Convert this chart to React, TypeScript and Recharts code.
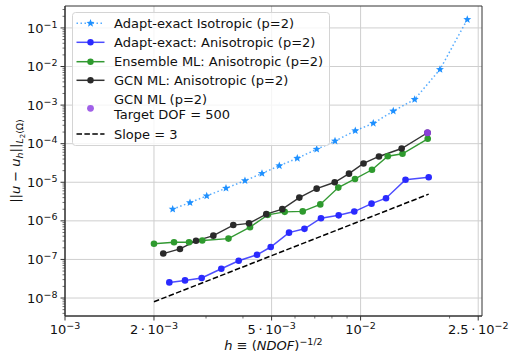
import { LineChart, Line, XAxis, YAxis, CartesianGrid, Legend, ReferenceArea, Label } from "recharts";

// h = NDOF^-1/2 and L2 error values
const isoH = [2.314e-3, 2.648e-3, 3.016e-3, 3.505e-3, 4.063e-3, 4.639e-3, 5.309e-3, 6.108e-3, 7.104e-3, 8.194e-3, 9.596e-3, 1.104e-2, 1.29e-2, 1.524e-2, 1.856e-2, 2.296e-2];
const isoErr = [2.01e-6, 2.97e-6, 4.43e-6, 7.01e-6, 1.1e-5, 1.69e-5, 2.68e-5, 4.19e-5, 7.2e-5, 1.17e-4, 2.17e-4, 3.37e-4, 7.0e-4, 1.41e-3, 8.39e-3, 0.165];

const anisoH = [2.254e-3, 2.547e-3, 2.9e-3, 3.379e-3, 3.869e-3, 4.463e-3, 4.965e-3, 5.726e-3, 6.459e-3, 7.345e-3, 8.432e-3, 9.521e-3, 1.089e-2, 1.219e-2, 1.419e-2, 1.7e-2];
const anisoErr = [2.54e-8, 2.86e-8, 3.3e-8, 5.73e-8, 9.23e-8, 1.32e-7, 2.1e-7, 4.95e-7, 6.21e-7, 1.17e-6, 1.39e-6, 1.74e-6, 2.79e-6, 3.86e-6, 1.16e-5, 1.35e-5];

const ensH = [2.0e-3, 2.338e-3, 2.628e-3, 2.913e-3, 3.573e-3, 4.226e-3, 4.854e-3, 5.537e-3, 6.371e-3, 7.306e-3, 8.406e-3, 9.574e-3, 1.093e-2, 1.236e-2, 1.386e-2, 1.687e-2];
const ensErr = [2.54e-7, 2.78e-7, 2.78e-7, 3.09e-7, 3.47e-7, 6.87e-7, 1.43e-6, 1.71e-6, 1.76e-6, 2.67e-6, 7.27e-6, 1.22e-5, 2.11e-5, 4.74e-5, 5.47e-5, 1.34e-4];

const gcnH = [2.15e-3, 2.449e-3, 2.775e-3, 3.176e-3, 3.709e-3, 4.193e-3, 4.797e-3, 5.434e-3, 6.205e-3, 7.104e-3, 8.175e-3, 9.137e-3, 1.023e-2, 1.154e-2, 1.377e-2, 1.684e-2];
const gcnErr = [1.42e-7, 1.87e-7, 3.04e-7, 4.14e-7, 7.78e-7, 8.61e-7, 1.49e-6, 2.01e-6, 4.01e-6, 6.84e-6, 1.0e-5, 1.67e-5, 3.07e-5, 4.66e-5, 7.5e-5, 1.92e-4];

const targetH = [1.684e-2];
const targetErr = [1.92e-4];

const slopeH = [2.0e-3, 1.7e-2];
const slopeErr = [8.0e-9, 4.913e-6];

const xDomain = [1e-3, 2.575e-2];
const yDomain = [3.42e-9, 0.37];

const xMajorTicks = [0.001, 0.002, 0.005, 0.01, 0.025];
const xTickPrefix = ["", "2\u2009·\u2009", "5\u2009·\u2009", "", "2.5\u2009·\u2009"];
const xTickExp = ["−3", "−3", "−3", "−2", "−2"];
const xMinorTicks = [0.003, 0.004, 0.006, 0.007, 0.008, 0.009, 0.02];

const yMajorTicks = [1e-8, 1e-7, 1e-6, 1e-5, 1e-4, 1e-3, 1e-2, 1e-1];
const yTickExp = ["−8", "−7", "−6", "−5", "−4", "−3", "−2", "−1"];
const minorSubs = [2, 3, 4, 5, 6, 7, 8, 9];
const yMinorTicks = [1e-9, ...yMajorTicks].flatMap((d) => minorSubs.map((s) => s * d)).filter((v) => v > yDomain[0] && v < yDomain[1]);

const FONT = "DejaVu Sans";
const SPINE = "#333";

const pts = (h: number[], e: number[]) => h.map((x, i) => ({ x, y: e[i] }));

function starPoints(cx: number, cy: number, ro: number, ri: number) {
  const p: string[] = [];
  for (let k = 0; k < 10; k++) {
    const r = k % 2 === 0 ? ro : ri;
    const a = -Math.PI / 2 + (k * Math.PI) / 5;
    p.push(`${cx + r * Math.cos(a)},${cy + r * Math.sin(a)}`);
  }
  return p.join(" ");
}

const circleDot = (fill: string, r: number) => (p: any) => (
  <circle key={`c${p.index}`} cx={p.cx} cy={p.cy} r={r} fill={fill} />
);
const starDot = (p: any) => (
  <polygon key={`s${p.index}`} points={starPoints(p.cx, p.cy, 4.2, 1.8)} fill="#1E90FF" />
);

function XTick(props: any) {
  const { x, y, payload } = props;
  const i = xMajorTicks.indexOf(payload.value);
  const major = i >= 0;
  return (
    <g>
      <line x1={x} x2={x} y1={y} y2={y + (major ? 4.5 : 2.5)} stroke={SPINE} strokeWidth={major ? 1 : 0.7} />
      {major && (
        <text x={x} y={y + 17.7} textAnchor="middle" fontSize={13} fontFamily={FONT} fill="#111">
          {xTickPrefix[i]}10
          <tspan dy={-4.7} fontSize={9.5}>{xTickExp[i]}</tspan>
        </text>
      )}
    </g>
  );
}

function YTick(props: any) {
  const { x, y, payload } = props;
  const i = yMajorTicks.indexOf(payload.value);
  const major = i >= 0;
  return (
    <g>
      <line x1={x - (major ? 4.5 : 2.5)} x2={x} y1={y} y2={y} stroke={SPINE} strokeWidth={major ? 1 : 0.7} />
      {major && (
        <text x={x - 7.5} y={y + 4.6} textAnchor="end" fontSize={13} fontFamily={FONT} fill="#111">
          10
          <tspan dy={-5} fontSize={9.5}>{yTickExp[i]}</tspan>
        </text>
      )}
    </g>
  );
}

function XLabel(props: any) {
  const vb = props.viewBox;
  return (
    <text x={vb.x + vb.width / 2} y={vb.y + 34} textAnchor="middle" fontSize={13} fontFamily={FONT} fill="#111">
      <tspan fontStyle="italic">h</tspan> ≡ (<tspan fontStyle="italic">NDOF</tspan>)
      <tspan dy={-5} fontSize={9.5}>−1/2</tspan>
    </text>
  );
}

function YLabel(props: any) {
  const vb = props.viewBox;
  const cx = 20;
  const cy = vb.y + vb.height / 2;
  return (
    <text x={cx} y={cy} transform={`rotate(-90, ${cx}, ${cy})`} textAnchor="middle" fontSize={13} fontFamily={FONT} fill="#111">
      ||<tspan fontStyle="italic">u</tspan> − <tspan fontStyle="italic">u</tspan>
      <tspan dy={2.5} fontSize={9.5} fontStyle="italic">h</tspan>
      <tspan dy={-2.5}>||</tspan>
      <tspan dy={3} fontSize={9.5} fontStyle="italic">L</tspan>
      <tspan dy={1.5} fontSize={7}>2</tspan>
      <tspan dy={-1.5} fontSize={9.5}>(Ω)</tspan>
    </text>
  );
}

function LegendBox() {
  const tx = 42;
  const hx1 = 4.5;
  const hx2 = 32.5;
  const mx = 18.5;
  const txt = (y: number, s: string) => (
    <text x={tx} y={y + 4.6} fontSize={13} fontFamily={FONT} fill="#111">{s}</text>
  );
  return (
    <svg width={258} height={134} style={{ display: "block" }}>
      <rect x={0.5} y={0.5} width={257} height={133} rx={3} fill="#fff" fillOpacity={0.8} stroke="#d4d4d4" />
      <line x1={hx1} x2={hx2} y1={11.3} y2={11.3} stroke="#1E90FF" strokeOpacity={0.75} strokeWidth={1.5} strokeDasharray="1.5 2.5" />
      <polygon points={starPoints(mx, 11.3, 4.2, 1.8)} fill="#1E90FF" />
      {txt(11.3, "Adapt-exact Isotropic (p=2)")}
      <line x1={hx1} x2={hx2} y1={30.3} y2={30.3} stroke="#0000ff" strokeOpacity={0.7} strokeWidth={1.5} />
      <circle cx={mx} cy={30.3} r={3.2} fill="#2a2aff" />
      {txt(30.3, "Adapt-exact: Anisotropic (p=2)")}
      <line x1={hx1} x2={hx2} y1={49.7} y2={49.7} stroke="#339933" strokeWidth={1.5} />
      <circle cx={mx} cy={49.7} r={3.2} fill="#2e9a2e" />
      {txt(49.7, "Ensemble ML: Anisotropic (p=2)")}
      <line x1={hx1} x2={hx2} y1={68.3} y2={68.3} stroke="#333" strokeWidth={1.5} />
      <circle cx={mx} cy={68.3} r={3.2} fill="#2a2a2a" />
      {txt(68.3, "GCN ML: Anisotropic (p=2)")}
      <circle cx={mx} cy={96.3} r={3.4} fill="#a060e8" />
      {txt(87.3, "GCN ML (p=2)")}
      {txt(102.3, "Target DOF = 500")}
      <line x1={hx1} x2={hx2} y1={122} y2={122} stroke="#000" strokeWidth={1.5} strokeDasharray="5.5 2.4" />
      {txt(122, "Slope = 3")}
    </svg>
  );
}

export default function App() {
  return (
    <div style={{ position: "absolute", left: 0, top: 0, width: 509, height: 355, background: "#fff" }}>
      <LineChart width={509} height={355} margin={{ top: 6, right: 27, bottom: 0, left: 0 }}>
        <CartesianGrid stroke="#cfcfcf" strokeWidth={1} verticalValues={xMajorTicks} horizontalValues={yMajorTicks} />
        <XAxis
          dataKey="x"
          type="number"
          scale="log"
          domain={xDomain}
          allowDataOverflow
          ticks={[...xMajorTicks, ...xMinorTicks]}
          interval={0}
          tickSize={0}
          tickMargin={0}
          tickLine={false}
          axisLine={{ stroke: SPINE }}
          tick={<XTick />}
          height={39}
        >
          <Label content={<XLabel />} />
        </XAxis>
        <YAxis
          dataKey="y"
          type="number"
          scale="log"
          domain={yDomain}
          allowDataOverflow
          ticks={[...yMajorTicks, ...yMinorTicks]}
          interval={0}
          tickSize={0}
          tickMargin={0}
          tickLine={false}
          axisLine={{ stroke: SPINE }}
          tick={<YTick />}
          width={65}
        >
          <Label content={<YLabel />} />
        </YAxis>
        <ReferenceArea x1={xDomain[0]} x2={xDomain[1]} y1={yDomain[0]} y2={yDomain[1]} fill="none" stroke={SPINE} strokeWidth={1} ifOverflow="visible" />
        <Line data={pts(isoH, isoErr)} dataKey="y" stroke="#1E90FF" strokeOpacity={0.75} strokeWidth={1.5} strokeDasharray="1.5 2.5" dot={starDot} activeDot={false} isAnimationActive={false} />
        <Line data={pts(anisoH, anisoErr)} dataKey="y" stroke="#0000ff" strokeOpacity={0.7} strokeWidth={1.5} dot={circleDot("#2a2aff", 3.3)} activeDot={false} isAnimationActive={false} />
        <Line data={pts(ensH, ensErr)} dataKey="y" stroke="#339933" strokeWidth={1.4} dot={circleDot("#2e9a2e", 3.3)} activeDot={false} isAnimationActive={false} />
        <Line data={pts(gcnH, gcnErr)} dataKey="y" stroke="#333" strokeWidth={1.4} dot={circleDot("#2a2a2a", 3.3)} activeDot={false} isAnimationActive={false} />
        <Line data={pts(targetH, targetErr)} dataKey="y" stroke="none" dot={circleDot("#8a3fd8", 3.5)} activeDot={false} isAnimationActive={false} />
        <Line data={pts(slopeH, slopeErr)} dataKey="y" stroke="#000" strokeWidth={1.5} strokeDasharray="5.5 2.4" dot={false} activeDot={false} isAnimationActive={false} />
        <Legend layout="horizontal" verticalAlign="middle" align="center" wrapperStyle={{ left: 72, top: 12, width: 258, height: 134 }} content={<LegendBox />} />
      </LineChart>
    </div>
  );
}
